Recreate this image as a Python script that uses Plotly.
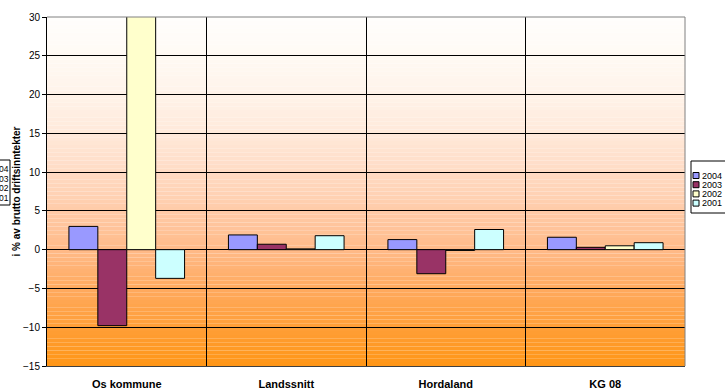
import plotly.graph_objects as go
import numpy as np

# ---- data ----
categories = ["Os kommune", "Landssnitt", "Hordaland", "KG 08"]
series_names = ["2004", "2003", "2002", "2001"]
values_2004 = [3.0, 1.9, 1.3, 1.6]
values_2003 = [-9.8, 0.7, -3.1, 0.3]
values_2002 = [38.0, 0.1, -0.1, 0.5]
values_2001 = [-3.7, 1.8, 2.6, 0.9]
series_values = [values_2004, values_2003, values_2002, values_2001]
colors = ["#9999FF", "#993366", "#FFFFCC", "#CCFFFF"]
y_title = "i % av brutto driftsinntekter"

FONT = "Arial, 'Liberation Sans', sans-serif"
W, H = 725, 389
ML, MR, MT, MB = 47, 40, 17, 23
PW, PH = W - ML - MR, H - MT - MB

def px(x):
    return (x - ML) / PW

def py(y):
    return (H - MB - y) / PH

fig = go.Figure()
for name, vals, col in zip(series_names, series_values, colors):
    fig.add_trace(go.Bar(
        x=categories, y=vals, name=name,
        marker=dict(color=col, line=dict(color="#000000", width=1)),
        showlegend=False,
    ))

shapes = []
# gradient background (white -> peach -> orange)
stops_y = [30, 25, 20, 15, 10, 5, 0, -5, -10, -15]
stops_c = [(255, 254, 252), (255, 250, 244), (255, 243, 233), (255, 233, 218),
           (255, 219, 196), (255, 203, 168), (255, 186, 136), (255, 170, 95),
           (255, 158, 55), (255, 150, 22)]
sy = np.array(stops_y[::-1], dtype=float)
sc = np.array(stops_c[::-1], dtype=float)
step = 0.5
for y0 in np.arange(-15, 30, step):
    ym = y0 + step / 2
    c = [int(round(np.interp(ym, sy, sc[:, k]))) for k in range(3)]
    shapes.append(dict(type="rect", xref="x domain", yref="y", x0=0, x1=1,
                       y0=y0, y1=y0 + step, layer="below",
                       fillcolor=f"rgb({c[0]},{c[1]},{c[2]})", line=dict(width=0)))
# top/right border
shapes.append(dict(type="line", xref="x domain", yref="y domain", x0=0, x1=1, y0=1, y1=1,
                   line=dict(color="#808080", width=1), layer="above"))
shapes.append(dict(type="line", xref="x domain", yref="y domain", x0=1, x1=1, y0=0, y1=1,
                   line=dict(color="#808080", width=1), layer="above"))

annotations = []
# legend at right
shapes.append(dict(type="rect", xref="paper", yref="paper",
                   x0=px(691), x1=px(735), y0=py(213), y1=py(161),
                   line=dict(color="#000000", width=1), fillcolor="#FFFFFF", layer="above"))
for i, (name, col) in enumerate(zip(series_names, colors)):
    yc = 175.5 + 9.2 * i
    shapes.append(dict(type="rect", xref="paper", yref="paper",
                       x0=px(693), x1=px(699), y0=py(yc + 3), y1=py(yc - 3),
                       line=dict(color="#000000", width=1), fillcolor=col, layer="above"))
    annotations.append(dict(xref="paper", yref="paper", x=px(699.5), y=py(yc),
                            xanchor="left", yanchor="middle", text=name, showarrow=False,
                            font=dict(family=FONT, size=9, color="#000000")))
# left legend copy (only the last digits are visible at the page edge)
shapes.append(dict(type="rect", xref="paper", yref="paper",
                   x0=px(-20), x1=px(10), y0=py(205), y1=py(160),
                   line=dict(color="#000000", width=1), fillcolor="#FFFFFF", layer="above"))
for i, name in enumerate(series_names):
    yc = 169 + 9.5 * i
    annotations.append(dict(xref="paper", yref="paper", x=px(9.5), y=py(yc),
                            xanchor="right", yanchor="middle", text=name[-2:], showarrow=False,
                            borderpad=0,
                            font=dict(family=FONT, size=8.5, color="#000000")))

fig.update_layout(
    width=W, height=H,
    margin=dict(l=ML, r=MR, t=MT, b=MB, pad=0),
    paper_bgcolor="#FFFFFF", plot_bgcolor="rgba(0,0,0,0)",
    barmode="group", bargap=0.275, bargroupgap=0,
    font=dict(family=FONT, size=10, color="#000000"),
    shapes=shapes, annotations=annotations,
    showlegend=False,
)
fig.update_xaxes(
    tickson="boundaries", showgrid=True, gridcolor="#000000", gridwidth=1,
    ticks="", showline=True, linecolor="#404040", linewidth=1,
    tickfont=dict(family=FONT, size=11, color="#000000", weight="bold"),
    ticklabelstandoff=8, zeroline=False, automargin=False,
)
fig.update_yaxes(
    range=[-15, 30], dtick=5, tick0=0,
    showgrid=True, gridcolor="#000000", gridwidth=1,
    zeroline=True, zerolinecolor="#000000", zerolinewidth=1,
    showline=True, linecolor="#000000", linewidth=1,
    ticks="outside", ticklen=4, tickcolor="#000000",
    tickfont=dict(family=FONT, size=10, color="#000000"),
    title=dict(text=y_title, font=dict(family=FONT, size=10, color="#000000", weight="bold"), standoff=0),
    automargin=False,
)

fig.write_html("out.html")
